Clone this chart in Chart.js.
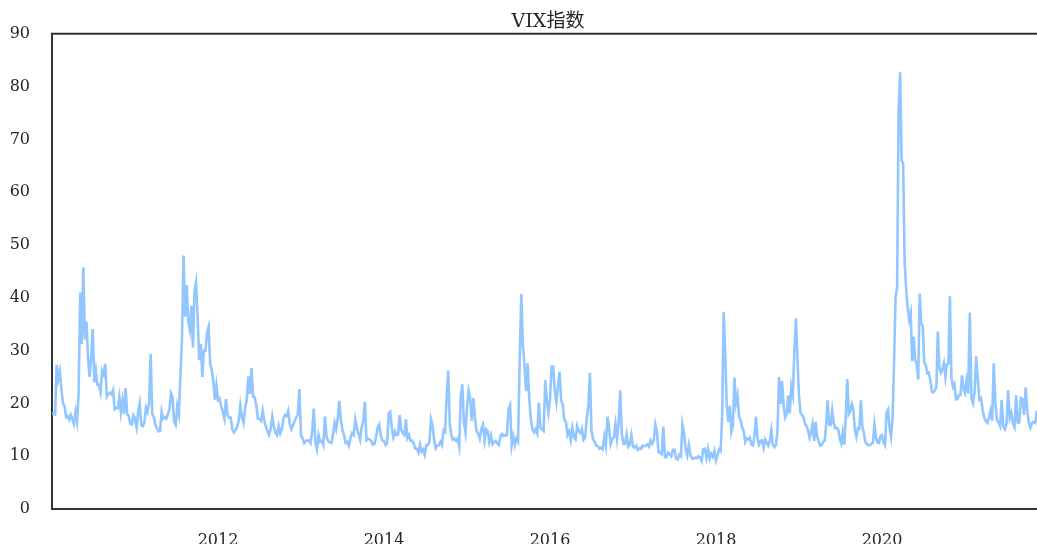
<!DOCTYPE html>
<html><head><meta charset="utf-8">
<script src="https://cdn.jsdelivr.net/npm/chart.js@4.4.1/dist/chart.umd.min.js"></script>
<style>
html,body{margin:0;padding:0;background:#fff;overflow:hidden;}
#wrap{width:1096px;height:544px;position:relative;}
</style>
</head><body>
<div id="wrap"><canvas id="c"></canvas></div>
<script>
// Weekly VIX readings per calendar year
const v2010 = [18.0,18.1,17.9,27.3,24.6,26.1,22.7,20.0,19.5,17.4,17.6,16.9,17.8,17.0,16.1,18.4,16.6,22.0,41.0,31.2,45.8,32.1,35.5,28.8,25.0,28.5,34.1,24.0,26.3,23.5,23.5,22.1,26.2,25.5,27.5,21.3,21.9,22.0,21.7,22.5,18.9,19.1,19.1,21.2,18.3,20.6,18.0,22.9,18.0,17.6,16.1,16.0,17.75];
const v2011 = [17.1,15.5,18.5,20.0,15.9,15.7,16.4,19.2,18.4,20.1,29.4,18.0,17.4,16.0,15.3,14.7,14.8,18.4,17.1,17.4,17.1,18.0,18.9,21.9,21.1,16.5,15.9,19.5,18.0,25.3,32.0,48.0,36.4,42.4,35.6,33.9,38.5,30.6,41.3,43.0,36.2,28.2,31.3,25.0,30.0,30.0,33.4,34.5,27.5,26.4,24.3,20.7,23.4];
const v2012 = [20.6,20.9,19.4,18.5,17.1,20.8,17.8,17.3,17.3,15.0,14.5,15.0,15.5,16.7,19.6,17.4,16.3,19.2,20.6,25.1,21.8,26.7,21.2,21.1,19.7,17.1,17.1,16.7,18.6,16.7,15.6,14.7,14.0,15.2,17.5,15.6,14.5,14.0,15.7,14.3,15.1,17.1,17.8,17.6,18.6,16.0,15.1,15.9,16.6,17.4,17.8,22.7];
const v2013 = [13.8,13.4,12.5,12.9,12.9,13.0,12.5,14.7,19.0,12.6,11.3,14.0,12.7,12.9,12.1,17.5,13.6,12.9,12.6,12.5,14.0,16.3,15.1,17.0,20.5,16.9,14.9,14.0,12.5,12.7,12.0,13.4,14.4,14.0,17.0,15.4,14.2,13.1,15.5,16.7,20.3,13.0,13.3,13.2,12.9,12.2,12.3,13.7,15.4,16.0,13.8,13.0];
const v2014 = [12.9,12.1,12.4,18.1,18.4,15.3,13.6,14.7,14.0,14.1,17.8,15.0,14.4,14.0,17.0,13.4,14.0,12.9,12.9,12.4,11.4,11.4,10.7,12.2,10.9,11.3,10.3,12.1,12.1,12.7,17.0,15.8,13.2,11.5,12.0,12.1,12.7,12.1,14.9,14.6,21.2,26.2,16.1,14.0,13.1,13.3,12.9,13.3,11.8,21.1,23.6,16.5,14.5];
const v2015 = [19.2,22.4,21.0,16.7,21.0,17.3,14.7,14.3,13.3,15.2,16.0,13.0,15.1,14.7,12.6,13.9,12.3,12.7,12.9,12.4,12.1,13.8,14.2,13.8,14.0,14.0,18.9,19.7,12.0,13.7,12.1,13.4,12.8,28.0,40.7,31.0,27.3,22.3,27.6,20.9,17.1,15.1,14.5,15.1,14.3,20.1,15.5,15.1,14.8,24.4,20.7,18.2];
const v2016 = [20.7,27.0,27.0,22.3,20.2,23.4,26.0,20.5,19.8,16.9,16.5,14.0,14.7,13.1,15.4,13.6,13.2,15.7,14.7,14.4,15.2,13.1,13.5,17.0,19.4,25.8,14.8,13.2,12.7,12.0,11.9,11.4,11.6,11.3,13.7,12.0,17.5,15.4,12.3,13.3,13.5,16.1,13.3,16.2,22.5,14.2,12.3,12.3,14.1,11.8,12.2,14.0];
const v2017 = [11.8,11.6,12.0,11.2,11.5,11.4,12.0,11.9,12.0,12.2,11.8,13.0,12.4,12.9,16.0,14.6,10.8,10.6,10.4,15.6,9.8,9.8,10.7,10.4,10.0,11.2,11.2,9.5,9.4,10.3,10.0,16.0,14.3,11.3,10.1,12.1,10.2,9.6,9.5,9.7,9.6,10.0,9.8,9.1,11.3,11.4,9.7,11.4,9.6,10.5,9.9,11.0];
const v2018 = [9.2,10.2,11.3,11.0,17.3,37.3,29.1,19.5,16.5,19.6,14.6,15.8,24.9,20.0,21.5,17.4,16.9,15.4,14.8,12.7,13.4,13.2,13.5,12.2,12.0,13.8,17.5,13.4,12.2,12.9,13.0,11.6,13.2,12.6,12.0,12.9,14.9,12.1,11.7,12.1,14.8,25.0,19.9,24.2,19.5,17.4,18.1,21.5,18.1,23.2,21.6,30.1,36.1,28.3];
const v2019 = [21.4,18.2,17.8,17.4,16.1,15.7,14.9,13.5,14.6,16.1,12.9,16.5,13.7,12.8,12.0,12.1,12.7,12.9,16.0,20.6,16.0,15.9,18.7,16.3,15.3,15.4,15.1,13.3,12.4,14.5,12.2,17.6,24.6,18.0,18.5,19.9,19.0,15.0,13.7,15.3,15.2,20.6,15.6,14.3,12.7,12.3,12.1,12.1,12.3,12.6,16.0,13.6,12.6,12.5,13.8];
const v2020 = [14.0,12.6,12.1,18.2,18.8,15.5,13.7,17.1,27.9,40.1,41.9,75.5,82.7,66.0,65.5,46.8,41.7,38.2,35.9,37.2,28.0,32.6,28.2,27.5,24.5,40.8,35.1,34.7,27.7,27.3,25.7,25.8,24.5,22.2,22.1,22.5,23.0,33.6,26.9,25.8,26.4,27.6,25.0,27.4,27.6,40.3,24.9,23.1,23.7,20.8,20.8,21.6,21.6,25.3,22.8];
const v2021 = [22.0,24.3,21.9,37.2,20.9,20.0,22.1,28.9,24.7,20.7,21.0,18.9,17.3,16.7,16.3,17.3,18.6,16.7,27.6,20.2,16.8,16.4,15.7,20.7,15.6,15.1,16.2,22.5,17.2,18.2,16.2,15.5,21.6,16.4,16.4,21.0,20.8,17.8,23.0,18.8,16.3,15.4,16.3,16.5,16.3,18.6];

const fullYears = [[2010,v2010],[2011,v2011],[2012,v2012],[2013,v2013],[2014,v2014],[2015,v2015],[2016,v2016],[2017,v2017],[2018,v2018],[2019,v2019],[2020,v2020]];
const partialYear = [2021, v2021]; // weekly, through mid-November

const xTickYears = [2012,2014,2016,2018,2020];
const yTickValues = [0,10,20,30,40,50,60,70,80,90];
const titleText = 'VIX指数';

const points = [];
fullYears.forEach(([yr, arr]) => arr.forEach((v, i) => points.push({x: yr + i / arr.length, y: v})));
partialYear[1].forEach((v, i) => points.push({x: partialYear[0] + i / 52, y: v}));

const frameTop = {
  id: 'frameTop',
  afterDraw(chart) {
    const {ctx, chartArea} = chart;
    ctx.save();
    ctx.strokeStyle = '#333';
    ctx.lineWidth = 2;
    ctx.beginPath();
    ctx.moveTo(chartArea.left - 1, chartArea.top);
    ctx.lineTo(chartArea.right + 1, chartArea.top);
    ctx.stroke();
    ctx.restore();
  }
};

const tickFont = {family: "'DejaVu Serif', serif", size: 16};

new Chart(document.getElementById('c'), {
  type: 'line',
  data: {
    datasets: [{
      data: points,
      borderColor: '#92C6FF',
      borderWidth: 2.6,
      pointRadius: 0,
      tension: 0,
      fill: false
    }]
  },
  options: {
    responsive: true,
    maintainAspectRatio: false,
    animation: false,
    layout: {padding: 0},
    plugins: {
      legend: {display: false},
      tooltip: {enabled: false},
      title: {
        display: true,
        text: titleText,
        color: '#262626',
        font: {family: "'DejaVu Serif', 'Noto Sans CJK SC', serif", size: 19, weight: 'normal'},
        padding: {top: 11, bottom: 0}
      }
    },
    scales: {
      x: {
        type: 'linear',
        min: 2010,
        max: 2010 + 1044 / 83,
        grid: {display: false, drawTicks: false},
        border: {display: true, color: '#333', width: 2},
        ticks: {color: '#262626', font: tickFont, padding: 22, maxRotation: 0, callback: v => String(v)},
        afterBuildTicks: s => { s.ticks = xTickYears.map(v => ({value: v})); },
        afterFit: s => { s.height = 35; }
      },
      y: {
        type: 'linear',
        min: 0,
        max: 90,
        grid: {display: false, drawTicks: false},
        border: {display: true, color: '#333', width: 2},
        ticks: {color: '#262626', font: tickFont, padding: 22, callback: v => String(v)},
        afterBuildTicks: s => { s.ticks = yTickValues.map(v => ({value: v})); },
        afterFit: s => { s.width = 52; }
      }
    }
  },
  plugins: [frameTop]
});
</script>
</body></html>
